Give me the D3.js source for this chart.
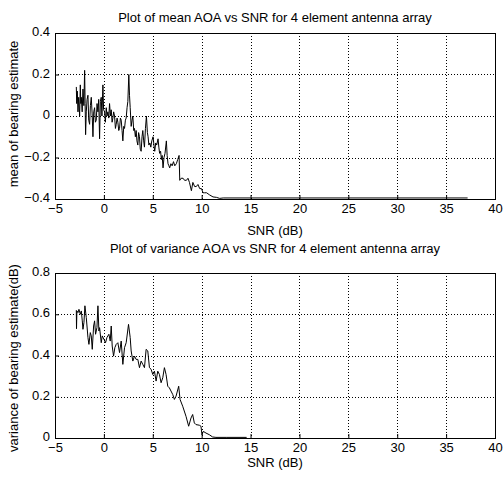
<!DOCTYPE html>
<html>
<head>
<meta charset="utf-8">
<script src="https://cdn.jsdelivr.net/npm/d3@7"></script>
<style>
  body { margin: 0; background: #fff; }
  text { font-family: "Liberation Sans", Arial, sans-serif; fill: #000; }
</style>
</head>
<body>
<svg id="chart" width="504" height="483"></svg>
<script>
// x ticks shared by both panels
const snrTicks = [-5, 0, 5, 10, 15, 20, 25, 30, 35, 40];
const meanTicks = [-0.4, -0.2, 0, 0.2, 0.4];
const varTicks = [0, 0.2, 0.4, 0.6, 0.8];

// mean of bearing estimate vs SNR
const meanSnr = [-2.82, -2.78, -2.72, -2.65, -2.58, -2.48, -2.41, -2.36, -2.31, -2.22, -2.14, -2.05, -1.97, -1.92, -1.87, -1.80, -1.72, -1.63, -1.55, -1.46, -1.38, -1.29, -1.20, -1.12, -1.04, -0.95, -0.87, -0.78, -0.70, -0.61, -0.53, -0.44, -0.36, -0.27, -0.20, -0.10, -0.03, 0.07, 0.15, 0.24, 0.32, 0.41, 0.50, 0.58, 0.67, 0.75, 0.84, 0.92, 1.00, 1.09, 1.18, 1.26, 1.35, 1.43, 1.52, 1.60, 1.69, 1.77, 1.86, 1.94, 2.03, 2.11, 2.20, 2.28, 2.37, 2.45, 2.55, 2.62, 2.69, 2.79, 2.88, 2.96, 3.05, 3.13, 3.22, 3.30, 3.38, 3.47, 3.55, 3.64, 3.72, 3.81, 3.90, 3.98, 4.07, 4.15, 4.25, 4.35, 4.45, 4.52, 4.60, 4.70, 4.80, 4.90, 5.03, 5.12, 5.20, 5.30, 5.40, 5.54, 5.62, 5.70, 5.80, 5.88, 5.96, 6.05, 6.15, 6.25, 6.39, 6.47, 6.56, 6.65, 6.73, 6.85, 6.98, 7.12, 7.25, 7.41, 7.55, 7.69, 7.76, 7.90, 8.10, 8.25, 8.44, 8.60, 8.75, 8.95, 9.10, 9.28, 9.45, 9.62, 9.80, 9.98, 10.14, 10.30, 10.50, 10.80, 11.16, 11.50, 11.84, 12.2, 15, 20, 25, 30, 35, 37.2];
const meanVals = [0.14, 0.06, 0.12, 0.02, 0.09, 0.00, 0.15, 0.06, 0.09, 0.02, 0.13, 0.05, 0.22, 0.06, -0.09, 0.02, 0.08, 0.10, -0.02, -0.04, 0.05, 0.09, 0.01, -0.10, 0.02, 0.04, -0.03, -0.02, 0.06, 0.02, 0.08, -0.11, 0.07, 0.09, 0.00, 0.15, 0.03, 0.02, -0.03, 0.04, 0.00, 0.02, -0.01, 0.06, 0.00, 0.03, -0.03, -0.01, 0.02, 0.00, -0.06, -0.04, -0.01, -0.03, -0.07, -0.06, -0.01, -0.02, -0.07, -0.12, -0.05, -0.06, -0.02, -0.01, 0.04, 0.07, 0.20, 0.10, 0.04, -0.05, -0.02, 0.00, -0.07, -0.06, -0.10, -0.07, -0.12, -0.14, -0.08, -0.10, -0.16, -0.17, -0.10, -0.07, -0.12, -0.15, -0.06, 0.00, -0.08, -0.10, -0.14, -0.13, -0.15, -0.12, -0.10, -0.14, -0.17, -0.13, -0.14, -0.11, -0.15, -0.18, -0.17, -0.21, -0.19, -0.25, -0.20, -0.18, -0.12, -0.19, -0.23, -0.24, -0.25, -0.23, -0.24, -0.22, -0.24, -0.23, -0.21, -0.19, -0.31, -0.30, -0.30, -0.31, -0.31, -0.30, -0.32, -0.36, -0.32, -0.34, -0.34, -0.33, -0.35, -0.35, -0.37, -0.37, -0.37, -0.38, -0.39, -0.392, -0.397, -0.395, -0.395, -0.395, -0.395, -0.395, -0.395, -0.395];

// variance of bearing estimate vs SNR
const varSnr = [-2.82, -2.80, -2.76, -2.65, -2.55, -2.41, -2.31, -2.21, -2.14, -2.04, -1.94, -1.80, -1.63, -1.53, -1.39, -1.29, -1.19, -1.05, -0.95, -0.85, -0.71, -0.61, -0.51, -0.44, -0.27, -0.17, 0, 0.17, 0.31, 0.51, 0.65, 0.75, 0.85, 0.99, 1.12, 1.26, 1.43, 1.60, 1.77, 1.94, 2.11, 2.28, 2.52, 2.69, 2.79, 2.96, 3.13, 3.30, 3.47, 3.64, 3.81, 3.98, 4.15, 4.32, 4.49, 4.66, 4.83, 5.00, 5.17, 5.34, 5.51, 5.68, 5.85, 6.02, 6.19, 6.36, 6.53, 6.70, 7.04, 7.21, 7.38, 7.65, 7.79, 8.06, 8.40, 8.67, 8.91, 9.08, 9.25, 9.42, 9.76, 9.93, 10.03, 10.17, 10.44, 10.78, 11.12, 11.46, 12.5, 14.6];
const varVals = [0.62, 0.53, 0.616, 0.608, 0.624, 0.60, 0.616, 0.568, 0.527, 0.56, 0.641, 0.584, 0.487, 0.454, 0.511, 0.495, 0.43, 0.543, 0.568, 0.503, 0.535, 0.641, 0.519, 0.535, 0.462, 0.495, 0.479, 0.462, 0.487, 0.503, 0.47, 0.543, 0.446, 0.397, 0.438, 0.454, 0.462, 0.414, 0.47, 0.357, 0.438, 0.462, 0.551, 0.487, 0.422, 0.373, 0.397, 0.381, 0.381, 0.341, 0.373, 0.357, 0.341, 0.43, 0.422, 0.341, 0.333, 0.308, 0.324, 0.276, 0.324, 0.308, 0.268, 0.292, 0.341, 0.308, 0.251, 0.243, 0.211, 0.187, 0.203, 0.251, 0.187, 0.154, 0.105, 0.057, 0.097, 0.114, 0.073, 0.065, 0.062, 0.057, 0.016, 0.032, 0.024, 0.016, 0.005, 0.003, 0.003, 0.003];

const svg = d3.select("#chart");

function drawPanel(p) {
  const left = 55, right = 495, top = p.top, bottom = p.bottom, yTicks = p.yTicks;
  const x = d3.scaleLinear().domain([-5, 40]).range([left, right]);
  const y = d3.scaleLinear().domain([yTicks[0], yTicks[yTicks.length - 1]]).range([bottom, top]);
  const g = svg.append("g");

  // dotted grid
  g.selectAll(".vgrid").data(snrTicks.slice(1, -1)).join("line")
      .attr("x1", d => Math.round(x(d)) + 0.5).attr("x2", d => Math.round(x(d)) + 0.5)
      .attr("y1", top).attr("y2", bottom)
      .attr("stroke", "#000").attr("stroke-dasharray", "1,2");
  g.selectAll(".hgrid").data(yTicks.slice(1, -1)).join("line")
      .attr("x1", left).attr("x2", right)
      .attr("y1", d => Math.round(y(d)) + 0.5).attr("y2", d => Math.round(y(d)) + 0.5)
      .attr("stroke", "#000").attr("stroke-dasharray", "1,2");

  // axes, ticks pointing inward
  g.append("g")
      .attr("transform", "translate(0," + bottom + ")")
      .call(d3.axisBottom(x).tickValues(snrTicks).tickSize(-4).tickPadding(5).tickFormat(d3.format("d")))
      .call(a => a.select(".domain").remove())
      .call(a => a.selectAll("text").attr("font-size", 13).attr("font-family", "Liberation Sans"));
  g.append("g")
      .attr("transform", "translate(" + left + ",0)")
      .call(d3.axisLeft(y).tickValues(yTicks).tickSize(-4).tickPadding(5).tickFormat(d => d === 0 ? "0" : d3.format(".1f")(d)))
      .call(a => a.select(".domain").remove())
      .call(a => a.selectAll("text").attr("font-size", 13).attr("font-family", "Liberation Sans").attr("dy", "0.2em"));

  g.append("rect")
      .attr("x", left + 0.5).attr("y", top + 0.5)
      .attr("width", right - left).attr("height", bottom - top)
      .attr("fill", "none").attr("stroke", "#000");

  const pts = p.xs.map((v, i) => [v, p.ys[i]]);
  g.append("path")
      .datum(pts)
      .attr("fill", "none")
      .attr("stroke", "#000")
      .attr("stroke-width", 1)
      .attr("d", d3.line().x(d => x(d[0])).y(d => y(d[1])));

  g.append("text")
      .attr("x", (left + right) / 2).attr("y", top - p.titleGap)
      .attr("text-anchor", "middle").attr("font-size", 13)
      .text(p.title);
  g.append("text")
      .attr("x", (left + right) / 2).attr("y", bottom + p.xlabGap)
      .attr("text-anchor", "middle").attr("font-size", 13)
      .text("SNR (dB)");
  g.append("text")
      .attr("transform", "translate(18," + p.ylabY + ") rotate(-90)")
      .attr("text-anchor", "middle").attr("font-size", 13)
      .text(p.yLabel);
}

drawPanel({top: 33, bottom: 199, yTicks: meanTicks, xs: meanSnr, ys: meanVals,
  title: "Plot of mean AOA vs SNR for 4 element antenna array", titleGap: 11, xlabGap: 36,
  yLabel: "mean of bearing estimate", ylabY: 114});
drawPanel({top: 273, bottom: 438, yTicks: varTicks, xs: varSnr, ys: varVals,
  title: "Plot of variance AOA vs SNR for 4 element antenna array", titleGap: 20, xlabGap: 29,
  yLabel: "variance of bearing estimate(dB)", ylabY: 358});
</script>
</body>
</html>
